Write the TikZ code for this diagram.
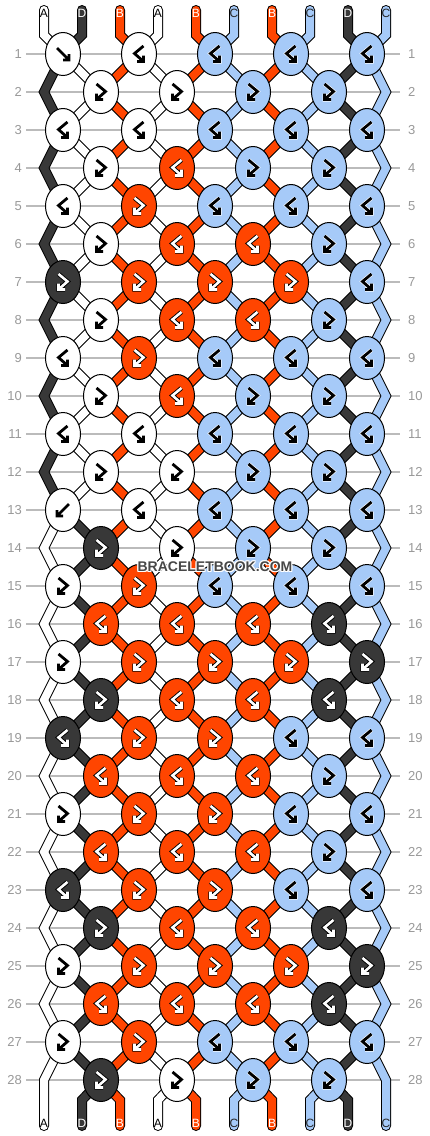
\documentclass[tikz,border=0pt]{standalone}
\usepackage{fontspec}
\setmainfont{Liberation Sans}
\usetikzlibrary{shapes.geometric,calc}

\definecolor{strA}{HTML}{FFFFFF}
\definecolor{strB}{HTML}{FF4500}
\definecolor{strC}{HTML}{A6CAF8}
\definecolor{strD}{HTML}{383838}
\definecolor{gridgray}{HTML}{BBBBBB}
\definecolor{numgray}{HTML}{999999}

% knot arrows, in pixels round the knot centre (y runs down)
\newcommand{\arrowf}[1]{\draw[#1] (-6,-6) -- (6,6) (0,6) -- (6,6) -- (6,0);}
\newcommand{\arrowb}[1]{\draw[#1] (6,-6) -- (-6,6) (0,6) -- (-6,6) -- (-6,0);}
\newcommand{\arrowfb}[1]{\draw[#1] (-4.5,-8) -- (4.5,-0.5) -- (-4.5,7.5) (2,7.5) -- (-4.5,7.5) -- (-4.5,1.5);}
\newcommand{\arrowbf}[1]{\draw[#1] (4.5,-8) -- (-4.5,-0.5) -- (4.5,7.5) (-2,7.5) -- (4.5,7.5) -- (4.5,1.5);}

\begin{document}
\begin{tikzpicture}[x=1pt, y=-1pt,
    thread/.style={line width=1, double distance=8, line cap=round, line join=miter},
    knot/.style={ellipse, draw=black, line width=1, minimum width=35, minimum height=43, inner sep=0},
    symA/.style={draw=white, line width=0.6, double=black, double distance=2.8, line join=miter},
    symC/.style={symA},
    symB/.style={draw=black, line width=0.9, double=white, double distance=2.6, line join=miter},
    symD/.style={symB},
    labA/.style={text=black}, labC/.style={text=black!85},
    labB/.style={text=white}, labD/.style={text=white},
    strlabel/.style={font=\fontsize{12}{12}\selectfont, inner sep=0},
    rownum/.style={font=\fontsize{13}{13}\selectfont, text=numgray, inner sep=0},
    watermark/.style={font=\bfseries\fontsize{14}{14}\selectfont, inner sep=0}]

    % Page
    \fill[white] (0,0) rectangle (430,1136);
    \useasboundingbox (0,0) rectangle (430,1136);

    % Row lines and numbers
    \foreach \r in {1,...,28}{
        \draw[gridgray, line width=1.3] (26,16+38*\r) -- (400,16+38*\r);
        \node[rownum, anchor=east] (ln\r) at (22,16+38*\r) {\r};
        \node[rownum, anchor=west] (rn\r) at (408,16+38*\r) {\r};
    }

    % Where each string passes, row by row
    \foreach \i in {1,...,10}{
        \coordinate (t\i) at (6+38*\i,10);
        \coordinate (tb\i) at (6+38*\i,35);
        \coordinate (bb\i) at (6+38*\i,1100);
        \coordinate (b\i) at (6+38*\i,1126);
        \foreach \r in {1,...,28}{
            % A and D trade places between the knots of rows 1 and 13
            \pgfmathtruncatemacro\p{((\i<3) && (\r>1) && (\r<13)) ? 3-\i : \i}
            \ifodd\r
                \pgfmathsetmacro\xx{25+38*(\p-1+mod(\p,2))}
            \else
                \pgfmathsetmacro\xx{((\p==1) || (\p==10)) ? 6+38*\p : 25+38*(\p-mod(\p,2))}
            \fi
            \coordinate (s\i-\r) at (\xx,16+38*\r);
        }
    }

    % Strings
    \foreach \s [count=\i] in {A,D,B,A,B,C,B,C,D,C}{
        \draw[thread, double=str\s] (t\i) -- (tb\i)
            \foreach \r in {1,...,28}{ -- (s\i-\r) } -- (bb\i) -- (b\i);
    }

    % Knots: colouring string / knot type
    \foreach \r/\ks in {
        1/{A/f,A/bf,C/bf,C/bf,C/bf},   2/{A/fb,A/fb,C/fb,C/fb},
        3/{A/bf,A/bf,C/bf,C/bf,C/bf},  4/{A/fb,B/bf,C/fb,C/fb},
        5/{A/bf,B/fb,C/bf,C/bf,C/bf},  6/{A/fb,B/bf,B/bf,C/fb},
        7/{D/fb,B/fb,B/fb,B/fb,C/bf},  8/{A/fb,B/bf,B/bf,C/fb},
        9/{A/bf,B/fb,C/bf,C/bf,C/bf},  10/{A/fb,B/bf,C/fb,C/fb},
        11/{A/bf,A/bf,C/bf,C/bf,C/bf}, 12/{A/fb,A/fb,C/fb,C/fb},
        13/{A/b,A/bf,C/bf,C/bf,C/bf},  14/{D/fb,A/fb,C/fb,C/fb},
        15/{A/fb,B/fb,C/bf,C/bf,C/bf}, 16/{B/bf,B/bf,B/bf,D/bf},
        17/{A/fb,B/fb,B/fb,B/fb,D/fb}, 18/{D/fb,B/bf,B/bf,D/bf},
        19/{D/bf,B/fb,B/fb,C/bf,C/bf}, 20/{B/bf,B/bf,B/bf,C/fb},
        21/{A/fb,B/fb,B/fb,C/bf,C/bf}, 22/{B/bf,B/bf,B/bf,C/fb},
        23/{D/bf,B/fb,B/fb,C/bf,C/bf}, 24/{D/fb,B/bf,B/bf,D/bf},
        25/{A/fb,B/fb,B/fb,B/fb,D/fb}, 26/{B/bf,B/bf,B/bf,D/bf},
        27/{A/fb,B/fb,C/bf,C/bf,C/bf}, 28/{D/fb,A/fb,C/fb,C/fb}}{
        \foreach \c/\t [count=\k] in \ks {
            \ifodd\r \pgfmathsetmacro\kx{-13+76*\k} \else \pgfmathsetmacro\kx{25+76*\k} \fi
            \node[knot, fill=str\c] (k\r-\k) at (\kx,16+38*\r) {};
            \csname arrow\t\endcsname{shift={(k\r-\k)}, sym\c}
        }
    }

    % String letters, top and bottom
    \foreach \s [count=\i] in {A,D,B,A,B,C,B,C,D,C}{
        \node[strlabel, lab\s] (top\i) at ($(t\i)+(0,3)$) {\s};
        \node[strlabel, lab\s] (bot\i) at ($(b\i)+(0,-3)$) {\s};
    }

    % Site mark
    \foreach \dx/\dy in {-1/0,1/0,0/-1,0/1,-1/-1,1/1,-1/1,1/-1}
        \node[watermark, text=white] at (215+\dx,567+\dy) {BRACELETBOOK.COM};
    \node[watermark, text=black!72] (mark) at (215,567) {BRACELETBOOK.COM};

\end{tikzpicture}
\end{document}
